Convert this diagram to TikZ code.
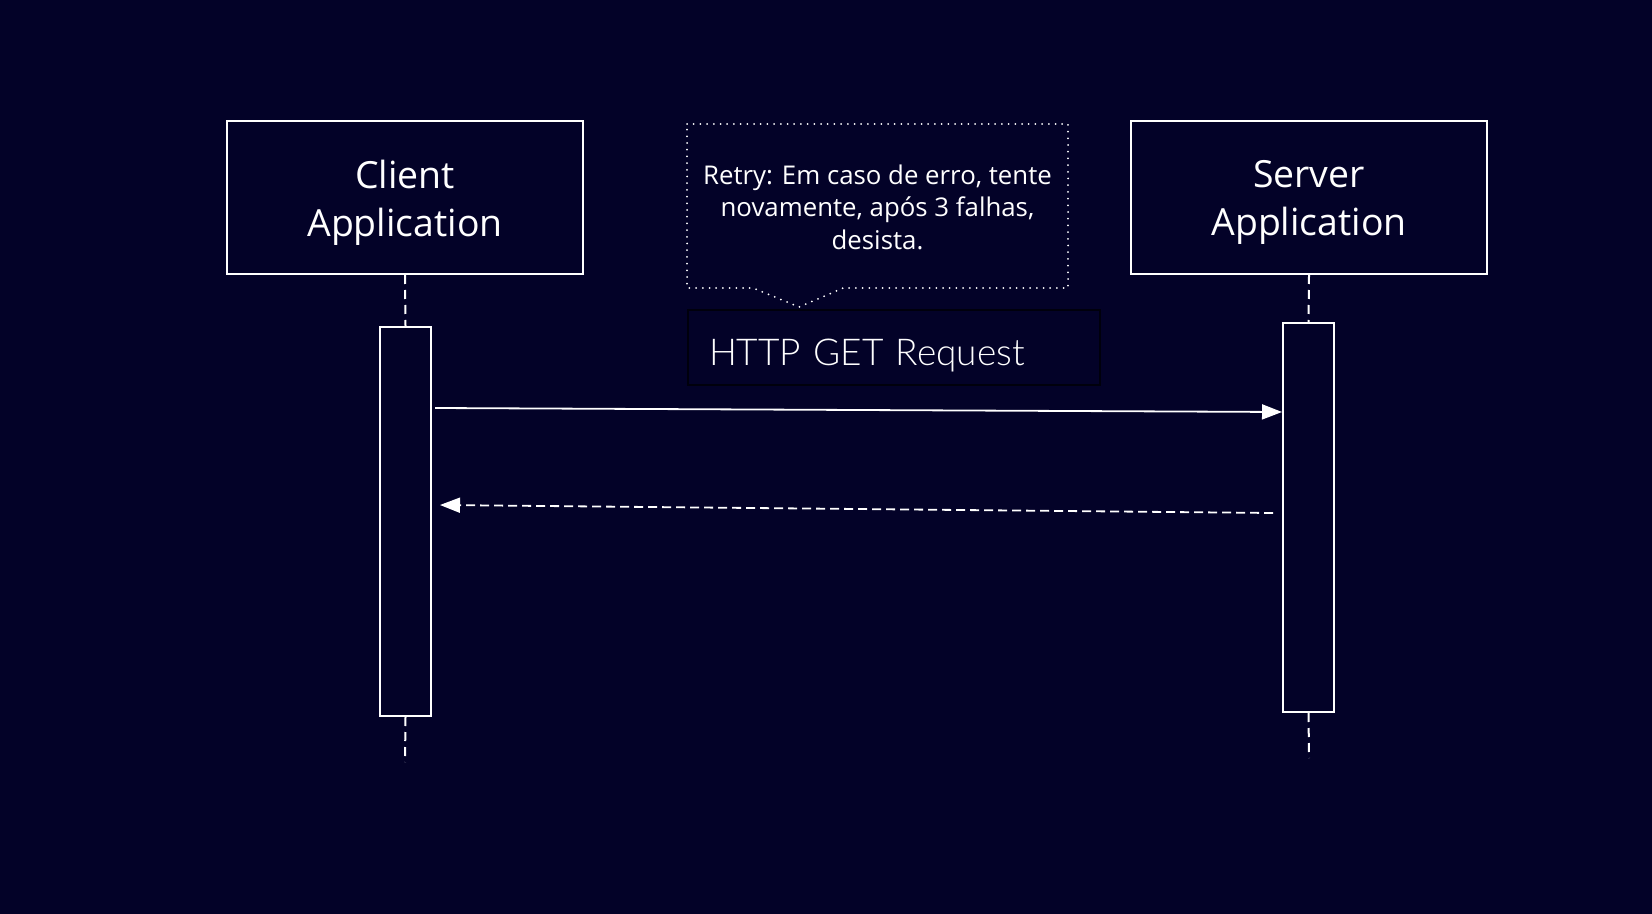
\documentclass[tikz,border=0pt]{standalone}
\usepackage{fontspec}
\setmainfont{Open Sans}
\newfontfamily\lightfont{Lato Light}
\usetikzlibrary{arrows.meta}
\definecolor{bg}{RGB}{3,2,40}
\definecolor{boxline}{RGB}{0,0,12}
\begin{document}
\begin{tikzpicture}[x=0.5pt,y=-0.5pt,
  actor/.style={draw=white, line width=1pt, fill=bg, minimum width=178pt, minimum height=76.5pt, inner sep=0pt},
  actortext/.style={align=center, text=white, inner sep=0pt, font=\fontsize{18.7}{24}\selectfont},
  actbar/.style={draw=white, line width=1pt, fill=bg, minimum width=25.5pt, minimum height=194.5pt, inner sep=0pt},
  lifeline/.style={white, line width=1pt, dash pattern=on 4.5pt off 3pt},
  msg/.style={white, line width=0.9pt, -{Triangle[length=10pt,width=7.5pt]}},
  reply/.style={msg, dash pattern=on 4.5pt off 2.5pt},
  notetext/.style={align=center, text=white, font=\fontsize{12.9}{16.2}\selectfont, inner sep=0pt},
  noteline/.style={white, line width=1pt, dash pattern=on 0pt off 3.35pt, line cap=round},
  msglabel/.style={draw=boxline, line width=1pt, fill=bg, minimum height=37.5pt, text width=185pt,
    text height=17.5pt, text depth=0pt,
    inner xsep=10.5pt, inner ysep=0pt, align=left, text=white, font=\lightfont\fontsize{18.5}{20}\selectfont}
]
\fill[bg] (0,0) rectangle (1652,914);
\useasboundingbox (0,0) rectangle (1652,914);

% actors
\node[actor] (client) at (405,197.5) {};
\node[actortext] (clientlabel) at ([yshift=-2.5pt]client.center) {Client\\Application};
\node[actor] (server) at (1309,197.5) {};
\node[actortext] (serverlabel) at ([yshift=-2.5pt]server.center) {Server\\Application};

% activation bars
\node[actbar] (cact) at (405.5,521.5) {};
\node[actbar] (sact) at (1308.5,517.5) {};

% lifelines
\coordinate (cend) at (405,762);
\coordinate (send) at (1309,758);
\draw[lifeline] (client.south) -- (cact.north);
\draw[lifeline] (cact.south) -- (cend);
\draw[lifeline] (server.south) -- (sact.north);
\draw[lifeline] (sact.south) -- (send);

% note callout
\draw[noteline] (687,124) -- (1068,124) -- (1068,288) -- (843,288) -- (799,307) -- (753,288) -- (687,288) -- cycle;
\node[notetext] (note) at (877.5,207) {Retry: Em caso de erro, tente\\novamente, após 3 falhas,\\desista.};

% message label
\node[msglabel] (reqlabel) at (894,347.5) {HTTP GET Request};

% messages
\coordinate (reqstart) at (435,408);
\coordinate (repstart) at (1273,513);
\draw[msg] (reqstart) -- (sact.west |- 0,412);
\draw[reply] (repstart) -- ([xshift=4pt]cact.east |- 0,505);
\end{tikzpicture}
\end{document}
